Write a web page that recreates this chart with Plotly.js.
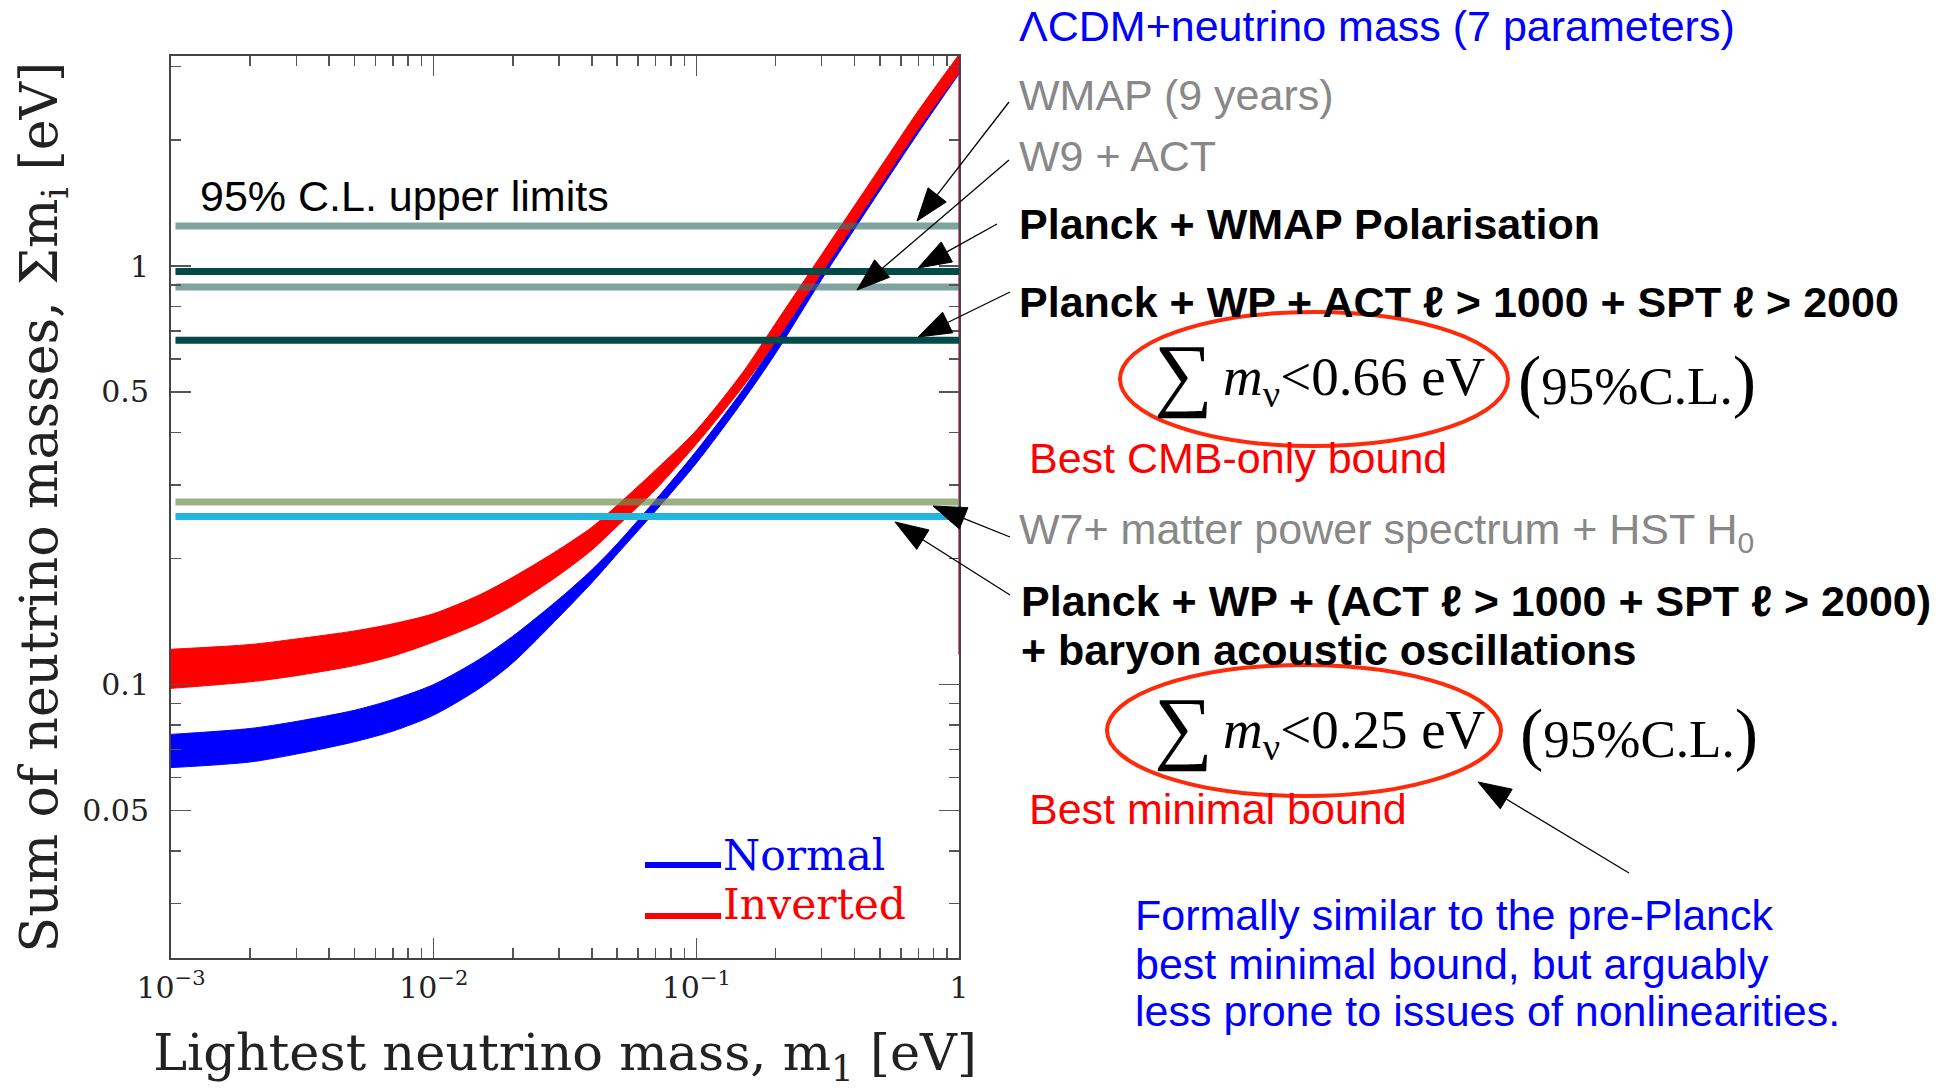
<!DOCTYPE html>
<html><head><meta charset="utf-8">
<script src="https://cdn.plot.ly/plotly-3.0.1.min.js"></script>
<style>html,body{margin:0;padding:0;background:#fff;}#chart{width:1955px;height:1089px;}</style>
</head><body><div id="chart"></div>
<script>
// ---------------- data ----------------
const m1 = [0.001, 0.002, 0.003, 0.005, 0.007, 0.01, 0.015, 0.02, 0.03, 0.04, 0.05, 0.07, 0.1, 0.15, 0.2, 0.3, 0.5, 0.7, 1.0];
const invertedUpper = [0.1214, 0.1246, 0.1285, 0.1343, 0.1397, 0.1477, 0.1639, 0.1804, 0.2103, 0.2376, 0.2683, 0.3257, 0.4049, 0.5563, 0.7285, 1.065, 1.716, 2.350, 3.2];
const invertedLower = [0.0979, 0.1015, 0.1050, 0.1110, 0.1170, 0.1264, 0.1403, 0.1545, 0.1827, 0.2096, 0.2390, 0.2926, 0.3754, 0.5137, 0.6594, 0.9638, 1.553, 2.127, 2.90];
const normalUpper = [0.0760, 0.0785, 0.0816, 0.0868, 0.0921, 0.1000, 0.1151, 0.1304, 0.1600, 0.1880, 0.2170, 0.2761, 0.3614, 0.5049, 0.6600, 0.980, 1.580, 2.160, 3.0];
const normalLower = [0.0633, 0.0653, 0.0682, 0.0730, 0.0774, 0.0845, 0.0981, 0.1127, 0.1450, 0.1750, 0.2050, 0.2600, 0.3380, 0.4748, 0.6174, 0.929, 1.515, 2.081, 2.88];

const limitNames = ['WMAP (9 years)', 'Planck + WMAP Polarisation', 'W9 + ACT', 'Planck + WP + highL', 'W7 + matter power spectrum + HST H0', 'Planck + WP + highL + BAO'];
const limitValues = [1.246, 0.970, 0.891, 0.665, 0.273, 0.252];
const limitColors = ['rgba(58,113,107,0.65)', '#024a4a', 'rgba(58,113,107,0.65)', '#024a4a', 'rgba(112,142,78,0.7)', '#22b6da'];
const limitX = [0.00104, 1.0];
const edgeLineY = [0.118, 3.1];

const xTickVals = [0.001, 0.01, 0.1, 1];
const xTickText = ['10<sup>\u22123</sup>', '10<sup>\u22122</sup>', '10<sup>\u22121</sup>', '1'];
const xMinorVals = [0.002,0.003,0.004,0.005,0.006,0.007,0.008,0.009,0.02,0.03,0.04,0.05,0.06,0.07,0.08,0.09,0.2,0.3,0.4,0.5,0.6,0.7,0.8,0.9];
const yTickVals = [0.05, 0.1, 0.5, 1];
const yTickText = ['0.05', '0.1', '0.5', '1'];
const yMinorVals = [0.03,0.04,0.06,0.07,0.08,0.09,0.2,0.3,0.4,0.6,0.7,0.8,0.9,2,3];

// ---------------- geometry helpers (layout only) ----------------
const W = 1955, Hh = 1089;
const L = 171, R = 959, T = 56, B = 958;
const PW = R - L, PH = B - T;
const px = x => (x - L) / PW;
const py = y => (B - y) / PH;

// ---------------- traces ----------------
const traces = [];
function band(lower, upper, color, name) {
  traces.push({x: m1, y: lower, mode: 'lines', line: {color: color, width: 1, shape: 'spline', smoothing: 0.8}, hoverinfo: 'skip', showlegend: false, name: name + ' (lower)'});
  traces.push({x: m1, y: upper, mode: 'lines', fill: 'tonexty', fillcolor: color, line: {color: color, width: 1, shape: 'spline', smoothing: 0.8}, hoverinfo: 'skip', showlegend: false, name: name});
}
band(normalLower, normalUpper, '#0000ff', 'Normal');
band(invertedLower, invertedUpper, '#ff0000', 'Inverted');
traces.push({x: [1, 1], y: edgeLineY, mode: 'lines', line: {color: 'rgba(215,0,70,0.85)', width: 1.5}, hoverinfo: 'skip', showlegend: false});
limitValues.forEach((v, i) => {
  traces.push({x: limitX, y: [v, v], mode: 'lines', line: {color: limitColors[i], width: 7}, name: limitNames[i], hoverinfo: 'skip', showlegend: false});
});

// ---------------- annotations ----------------
const sans = 'Liberation Sans, Arial, sans-serif';
const serif = 'Liberation Serif, Times New Roman, serif';
const sm = 'DejaVu Serif, serif';
const ann = [];
function txt(text, x, y, size, color, family, extra) {
  ann.push(Object.assign({text: text, x: px(x), y: py(y), xref: 'paper', yref: 'paper', xanchor: 'left', yanchor: 'middle',
    showarrow: false, font: {family: family || sans, size: size, color: color}, borderpad: 0}, extra || {}));
}
txt('\u039bCDM+neutrino mass (7 parameters)', 1018, 26, 43, '#0000ff');
txt('WMAP (9 years)', 1018, 95, 43, '#888888');
txt('W9 + ACT', 1018, 156, 43, '#888888');
txt('<b>Planck + WMAP Polarisation</b>', 1018, 224, 43, '#000000');
txt('<b>Planck + WP + ACT \u2113 &gt; 1000 + SPT \u2113 &gt; 2000</b>', 1018, 302, 43, '#000000');
txt('Best CMB-only bound', 1028, 458, 43, '#ff0000');
txt('W7+ matter power spectrum + HST H<sub>0</sub>', 1018, 532, 43, '#888888');
txt('<b>Planck + WP + (ACT \u2113 &gt; 1000 + SPT \u2113 &gt; 2000)</b>', 1020, 601, 43, '#000000');
txt('<b>+ baryon acoustic oscillations</b>', 1020, 650, 43, '#000000');
txt('Best minimal bound', 1028, 809, 43, '#ff0000');
txt('Formally similar to the pre-Planck', 1134, 915, 43, '#0000ff');
txt('best minimal bound, but arguably', 1134, 964, 43, '#0000ff');
txt('less prone to issues of nonlinearities.', 1134, 1011, 43, '#0000ff');
txt('95% C.L. upper limits', 199, 196, 43, '#000000');
// formulas
txt('\u2211', 1153, 373, 82, '#000000', serif);
txt('<i>m</i><sub>\u03bd</sub>&lt;0.66 eV', 1222, 380, 55, '#000000', serif);
txt('<span style="font-size:70px">(</span>95%C.L.<span style="font-size:70px">)</span>', 1517, 380, 53, '#000000', serif);
txt('\u2211', 1153, 726, 82, '#000000', serif);
txt('<i>m</i><sub>\u03bd</sub>&lt;0.25 eV', 1222, 733, 55, '#000000', serif);
txt('<span style="font-size:70px">(</span>95%C.L.<span style="font-size:70px">)</span>', 1519, 733, 53, '#000000', serif);
// legend
txt('Normal', 722, 855, 42.5, '#0000ff', sm);
txt('Inverted', 722, 904, 42.5, '#ff0000', sm);

// ---------------- shapes ----------------
const shapes = [];
function arrow(tx, ty, hx, hy) {
  const dx = hx - tx, dy = hy - ty, len = Math.hypot(dx, dy);
  const ux = dx / len, uy = dy / len, hl = 33, hw = 11.5;
  const bx = hx - ux * hl, by = hy - uy * hl;
  const p1 = [bx - uy * hw, by + ux * hw], p2 = [bx + uy * hw, by - ux * hw];
  shapes.push({type: 'line', xref: 'paper', yref: 'paper', x0: px(tx), y0: py(ty), x1: px(bx), y1: py(by), line: {color: '#000', width: 1.3}});
  shapes.push({type: 'path', xref: 'paper', yref: 'paper',
    path: `M${px(hx)},${py(hy)} L${px(p1[0])},${py(p1[1])} L${px(p2[0])},${py(p2[1])} Z`,
    fillcolor: '#000', line: {color: '#000', width: 1}});
}
arrow(1009, 102, 917, 221);
arrow(1009, 160, 857, 290);
arrow(997, 224, 918, 268);
arrow(1010, 292, 918, 337);
arrow(1010, 537, 933, 506);
arrow(1010, 595, 895, 522);
arrow(1629, 873, 1478, 782);
// ellipses
shapes.push({type: 'circle', xref: 'paper', yref: 'paper', x0: px(1120), x1: px(1508), y0: py(446), y1: py(312), line: {color: '#ff2a0a', width: 4}});
shapes.push({type: 'circle', xref: 'paper', yref: 'paper', x0: px(1107), x1: px(1501), y0: py(796), y1: py(665), line: {color: '#ff2a0a', width: 4}});
// legend samples
shapes.push({type: 'line', xref: 'paper', yref: 'paper', x0: px(645), x1: px(721), y0: py(865), y1: py(865), line: {color: '#0000ff', width: 6}});
shapes.push({type: 'line', xref: 'paper', yref: 'paper', x0: px(645), x1: px(721), y0: py(916), y1: py(916), line: {color: '#ff0000', width: 6}});

const axisCommon = {showgrid: false, zeroline: false, showline: true, linecolor: '#444', linewidth: 2, mirror: 'allticks',
  ticks: 'inside', ticklen: 20, tickwidth: 1.6, tickcolor: '#555', automargin: false};

const layout = {
  width: W, height: Hh, paper_bgcolor: '#fff', plot_bgcolor: '#fff',
  margin: {l: L, r: W - R, t: T, b: Hh - B, pad: 0},
  showlegend: false,
  font: {family: sans},
  xaxis: Object.assign({}, axisCommon, {type: 'log', range: [-3, 0], tickmode: 'array', tickvals: xTickVals, ticktext: xTickText,
    tickfont: {family: sm, size: 30, color: '#222'}, ticklabelstandoff: 2,
    minor: {tickmode: 'array', tickvals: xMinorVals, ticks: 'inside', ticklen: 10, tickwidth: 1.6, tickcolor: '#555', showgrid: false},
    title: {text: 'Lightest neutrino mass, m<sub>1</sub> [eV]', font: {family: sm, size: 51, color: '#222'}, standoff: 39}}),
  yaxis: Object.assign({}, axisCommon, {type: 'log', range: [-1.6535, 0.5018], tickmode: 'array', tickvals: yTickVals, ticktext: yTickText,
    tickfont: {family: sm, size: 30, color: '#222'}, ticklabelstandoff: 14,
    minor: {tickmode: 'array', tickvals: yMinorVals, ticks: 'inside', ticklen: 10, tickwidth: 1.6, tickcolor: '#555', showgrid: false},
    title: {text: 'Sum of neutrino masses, \u03a3m<sub>i</sub> [eV]', font: {family: sm, size: 52, color: '#222'}, standoff: 8}}),
  annotations: ann,
  shapes: shapes
};

Plotly.newPlot('chart', traces, layout, {displayModeBar: false, staticPlot: true});
</script>
</body></html>
